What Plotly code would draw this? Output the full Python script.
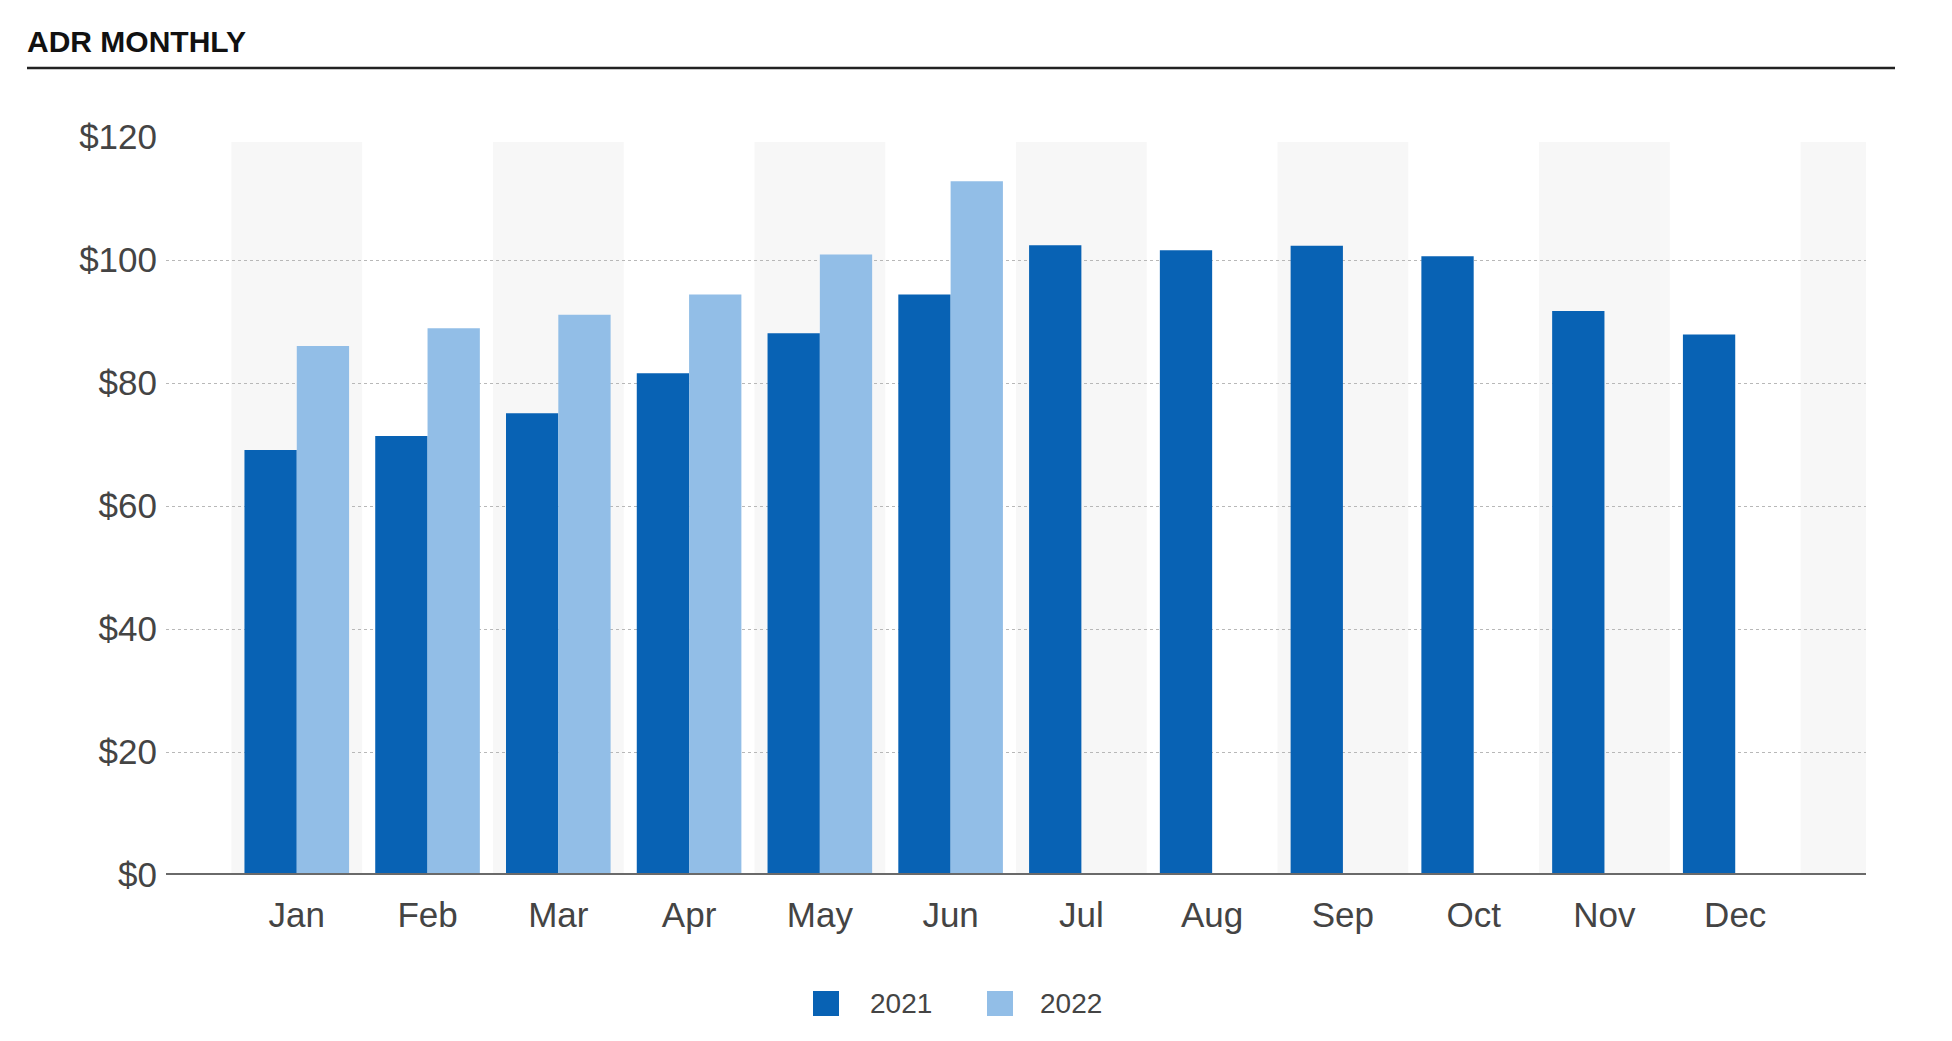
import plotly.graph_objects as go

months = ["Jan", "Feb", "Mar", "Apr", "May", "Jun", "Jul", "Aug", "Sep", "Oct", "Nov", "Dec"]
adr_2021 = [69.1, 71.4, 75.1, 81.6, 88.1, 94.4, 102.4, 101.6, 102.3, 100.6, 91.7, 87.9]
adr_2022 = [86.0, 88.9, 91.1, 94.4, 100.9, 112.8, None, None, None, None, None, None]
series_names = ["2021", "2022"]
y_ticks = [0, 20, 40, 60, 80, 100, 120]
y_tick_labels = ["$0", "$20", "$40", "$60", "$80", "$100", "$120"]

DARK = "#0862B4"
LIGHT = "#92BEE7"

W, H = 1952, 1041
L, R, T, B = 158, 94, 129, 174
pw, ph = W - L - R, H - T - B


def px(x):
    return (x - L) / pw


def py(y):
    return (H - B - y) / ph


fig = go.Figure()
fig.add_trace(go.Bar(x=list(range(12)), y=adr_2021, name=series_names[0], marker_color=DARK,
                     marker_line_width=0, showlegend=False))
fig.add_trace(go.Bar(x=list(range(12)), y=adr_2022, name=series_names[1], marker_color=LIGHT,
                     marker_line_width=0, showlegend=False))

# alternating background stripes
shapes = []
for k in range(0, 13, 2):
    shapes.append(dict(type="rect", xref="x", yref="y", x0=k - 0.5, x1=min(k + 0.5, 12),
                       y0=0, y1=119.2, fillcolor="#F7F7F7", line_width=0, layer="below"))
# title underline
shapes.append(dict(type="line", xref="paper", yref="paper",
                   x0=px(19), x1=px(1887), y0=py(60), y1=py(60),
                   line=dict(color="#222222", width=2.5)))
# baseline
shapes.append(dict(type="line", xref="paper", yref="y", x0=0, x1=1, y0=0, y1=0,
                   line=dict(color="#6A6A6A", width=4), layer="above"))

# legend (drawn manually to get large squares)
annotations = []
for name, color, sx, tx in [(series_names[0], DARK, 805, 860), (series_names[1], LIGHT, 979, 1030)]:
    shapes.append(dict(type="rect", xref="paper", yref="paper",
                       x0=px(sx), x1=px(sx + 26), y0=py(983), y1=py(1008),
                       fillcolor=color, line_width=0))
    annotations.append(dict(text=name, xref="paper", yref="paper", x=px(tx), y=py(995),
                            xanchor="left", yanchor="middle", showarrow=False,
                            font=dict(size=28, color="#444444")))

fig.update_layout(
    width=W, height=H,
    margin=dict(l=L, r=R, t=T, b=B, pad=0),
    paper_bgcolor="white", plot_bgcolor="white",
    barmode="group", bargap=0.2, bargroupgap=0,
    shapes=shapes, annotations=annotations, showlegend=False,
    font=dict(family="Liberation Sans, Arial, sans-serif", color="#444444"),
    title=dict(text="<b>ADR MONTHLY</b>", xref="container", yref="container",
               x=19 / W, xanchor="left", y=1 - 33 / H, yanchor="middle",
               font=dict(family="Liberation Sans, Arial, sans-serif",
                         size=30, color="#111111")),
    xaxis=dict(range=[-1, 12], tickmode="array", tickvals=list(range(12)), ticktext=months,
               showgrid=False, zeroline=False, showline=False, ticks="",
               tickfont=dict(size=35, color="#444444"), ticklabelstandoff=16, fixedrange=True),
    yaxis=dict(range=[0, 120], tickmode="array", tickvals=y_ticks, ticktext=y_tick_labels,
               showgrid=True, gridcolor="#B8B8B8", griddash="dot", gridwidth=1,
               zeroline=False, showline=False, ticks="",
               tickfont=dict(size=35, color="#444444"), ticklabelstandoff=8),
)

fig.write_html("out.html")
